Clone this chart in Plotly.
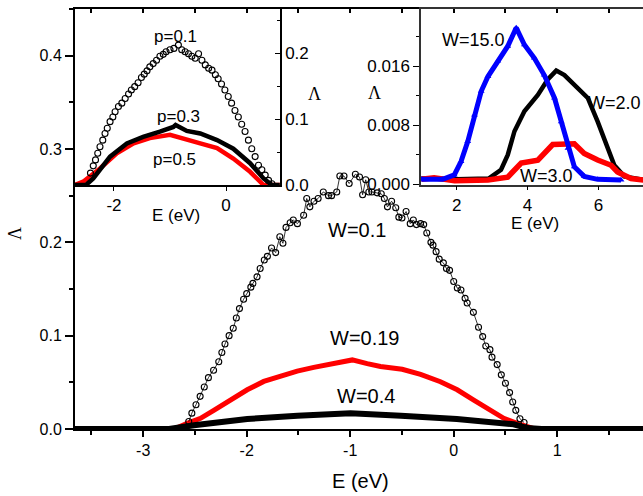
import plotly.graph_objects as go

# ---------------- data: main panel ----------------
w01_E = [-2.56, -2.53, -2.49, -2.45, -2.41, -2.37, -2.32, -2.27, -2.24, -2.21, -2.17, -2.13, -2.10, -2.07,
         -2.03, -2.00, -1.96, -1.94, -1.90, -1.87, -1.83, -1.80, -1.76, -1.72, -1.68, -1.65, -1.62, -1.58,
         -1.55, -1.51, -1.45, -1.42, -1.39, -1.35, -1.31, -1.26, -1.21, -1.18, -1.13, -1.10, -1.06, -1.01,
         -0.95, -0.91, -0.88, -0.85, -0.82, -0.79, -0.74, -0.70, -0.67, -0.64, -0.60, -0.56, -0.53, -0.50,
         -0.46, -0.42, -0.39, -0.36, -0.32, -0.29, -0.26, -0.22, -0.20, -0.17, -0.14, -0.10, -0.07, -0.04,
         0.00, 0.035, 0.07, 0.11, 0.13, 0.19, 0.24, 0.28, 0.31, 0.35, 0.37, 0.42, 0.46, 0.50, 0.54, 0.57,
         0.60, 0.64, 0.68]
w01_L = [0.008, 0.017, 0.026, 0.035, 0.045, 0.055, 0.063, 0.072, 0.082, 0.091, 0.100, 0.108, 0.119, 0.129,
         0.139, 0.145, 0.152, 0.156, 0.163, 0.172, 0.181, 0.185, 0.194, 0.189, 0.206, 0.199, 0.216, 0.221,
         0.224, 0.220, 0.229, 0.247, 0.238, 0.244, 0.247, 0.254, 0.250, 0.250, 0.254, 0.271, 0.271, 0.263,
         0.273, 0.270, 0.251, 0.267, 0.254, 0.254, 0.253, 0.252, 0.247, 0.238, 0.244, 0.237, 0.227, 0.226,
         0.233, 0.220, 0.224, 0.219, 0.220, 0.219, 0.210, 0.200, 0.197, 0.190, 0.182, 0.178, 0.172, 0.170,
         0.158, 0.151, 0.149, 0.140, 0.135, 0.125, 0.109, 0.099, 0.089, 0.085, 0.077, 0.069, 0.058, 0.049,
         0.039, 0.029, 0.020, 0.011, 0.007]

w019_E = [-3.66, -2.70, -2.575, -2.446, -2.318, -2.157, -1.995, -1.835, -1.673, -1.512, -1.352, -1.19,
          -0.98, -0.836, -0.707, -0.498, -0.32, -0.128, 0.034, 0.194, 0.356, 0.484, 0.613, 0.71, 0.78, 1.83]
w019_L = [0.0, 0.0, 0.006, 0.0114, 0.020, 0.031, 0.042, 0.051, 0.057, 0.062, 0.066, 0.069,
          0.074, 0.070, 0.067, 0.064, 0.0586, 0.0507, 0.042, 0.031, 0.020, 0.0114, 0.006, 0.003, 0.0, 0.0]

w04_E = [-3.66, -2.75, -2.51, -1.995, -1.51, -0.997, -0.51, 0.03, 0.58, 0.71, 0.85, 1.83]
w04_L = [0.0, 0.0, 0.004, 0.0107, 0.0143, 0.0168, 0.0143, 0.0107, 0.005, 0.001, 0.0, 0.0]

main_xticks = [-3, -2, -1, 0, 1]
main_xtext = ["-3", "-2", "-1", "0", "1"]
main_yticks = [0.0, 0.1, 0.2, 0.3, 0.4]
main_ytext = ["0.0", "0.1", "0.2", "0.3", "0.4"]

# ---------------- data: inset 1 (p) ----------------
p01_E = [-2.42, -2.37, -2.33, -2.29, -2.25, -2.20, -2.16, -2.12, -2.07, -2.02, -1.98, -1.92, -1.86, -1.80,
         -1.74, -1.69, -1.63, -1.57, -1.51, -1.46, -1.41, -1.36, -1.30, -1.24, -1.18, -1.12, -1.07, -1.00,
         -0.93, -0.85, -0.79, -0.73, -0.67, -0.61, -0.55, -0.49, -0.43, -0.37, -0.31, -0.25, -0.19, -0.14,
         -0.08, -0.02, 0.04, 0.10, 0.16, 0.22, 0.28, 0.34, 0.40, 0.46, 0.52, 0.58, 0.64, 0.70, 0.76, 0.82]
p01_L = [0.018, 0.029, 0.038, 0.048, 0.058, 0.068, 0.078, 0.086, 0.096, 0.103, 0.111, 0.119, 0.124, 0.131,
         0.138, 0.144, 0.149, 0.155, 0.163, 0.168, 0.173, 0.179, 0.184, 0.189, 0.195, 0.198, 0.202, 0.205,
         0.207, 0.212, 0.205, 0.202, 0.199, 0.195, 0.192, 0.199, 0.189, 0.182, 0.177, 0.174, 0.167, 0.161,
         0.153, 0.144, 0.134, 0.124, 0.113, 0.103, 0.092, 0.081, 0.068, 0.055, 0.043, 0.030, 0.023, 0.015,
         0.007, 0.002]

p03_E = [-2.70, -2.50, -2.37, -2.22, -2.07, -1.77, -1.48, -1.18, -0.94, -0.90, -0.70, -0.46, -0.16, 0.13,
         0.43, 0.67, 0.82, 0.96]
p03_L = [0.0, 0.0, 0.010, 0.027, 0.043, 0.063, 0.073, 0.081, 0.088, 0.091, 0.082, 0.078, 0.068, 0.055,
         0.033, 0.010, 0.0, 0.0]

p05_E = [-2.70, -2.55, -2.25, -1.95, -1.65, -1.36, -1.00, -0.76, -0.46, -0.16, 0.13, 0.43, 0.67, 0.96]
p05_L = [0.0, 0.005, 0.025, 0.048, 0.063, 0.071, 0.076, 0.071, 0.063, 0.056, 0.040, 0.020, 0.0, 0.0]

# ---------------- data: inset 2 (W large) ----------------
w15_E = [1.0, 1.6, 1.93, 2.12, 2.31, 2.50, 2.69, 2.88, 3.16, 3.44, 3.68, 3.91, 4.19, 4.47, 4.76, 4.95,
         5.14, 5.32, 5.60, 5.98, 6.64]
w15_L = [0.0007, 0.0007, 0.0013, 0.0031, 0.0058, 0.0094, 0.0126, 0.0146, 0.0167, 0.0187, 0.0212, 0.0189,
         0.0171, 0.0148, 0.0117, 0.0085, 0.0049, 0.0024, 0.0011, 0.0007, 0.0006]

w2_E = [1.0, 2.0, 2.9, 3.25, 3.44, 3.63, 3.91, 4.29, 4.57, 4.81, 5.04, 5.42, 5.70, 5.98, 6.27, 6.45,
        6.73, 7.30]
w2_L = [0.0008, 0.0007, 0.0008, 0.002, 0.004, 0.0072, 0.0099, 0.0121, 0.0142, 0.0154, 0.0148, 0.0130,
        0.0117, 0.0085, 0.0049, 0.0026, 0.0011, 0.0006]

w3_E = [1.0, 1.36, 1.94, 2.88, 3.44, 3.63, 3.82, 4.29, 4.52, 4.71, 5.32, 5.60, 5.98, 6.36, 6.54, 6.92,
        7.30]
w3_L = [0.0007, 0.0009, 0.0005, 0.0006, 0.001, 0.002, 0.0029, 0.0033, 0.0044, 0.0054, 0.0055, 0.0042,
        0.0033, 0.0026, 0.0017, 0.0008, 0.0006]

in2_yticks = [0.0, 0.008, 0.016]
in2_ytext = ["0.000", "0.008", "0.016"]

# ---------------- figure ----------------
W, H = 643, 496
FONT = "Arial, Liberation Sans, sans-serif"
SERIF = "Times New Roman, Liberation Serif, serif"


def px(x):
    return x / W


def py(y):
    return 1 - y / H


fig = go.Figure()

# main panel
fig.add_trace(go.Scatter(x=w019_E, y=w019_L, mode="lines", line=dict(color="#ff0000", width=5),
                         xaxis="x", yaxis="y", showlegend=False))
fig.add_trace(go.Scatter(x=w04_E, y=w04_L, mode="lines", line=dict(color="#000000", width=6),
                         xaxis="x", yaxis="y", showlegend=False))
fig.add_trace(go.Scatter(x=w01_E, y=w01_L, mode="lines+markers", line=dict(color="#000000", width=0.8),
                         marker=dict(symbol="circle-open", size=6, color="#000000", line=dict(width=1.1)),
                         xaxis="x", yaxis="y", showlegend=False))
# dummy trace for the top mirror axis of the main panel
fig.add_trace(go.Scatter(x=[-10], y=[-10], mode="markers", marker=dict(opacity=0),
                         xaxis="x4", yaxis="y", showlegend=False, hoverinfo="skip"))

# inset 1
fig.add_trace(go.Scatter(x=p05_E, y=p05_L, mode="lines", line=dict(color="#ff0000", width=4.5),
                         xaxis="x2", yaxis="y2", showlegend=False))
fig.add_trace(go.Scatter(x=p03_E, y=p03_L, mode="lines", line=dict(color="#000000", width=4.5),
                         xaxis="x2", yaxis="y2", showlegend=False))
fig.add_trace(go.Scatter(x=p01_E, y=p01_L, mode="markers",
                         marker=dict(symbol="circle-open", size=6, color="#000000", line=dict(width=1.1)),
                         xaxis="x2", yaxis="y2", showlegend=False))

# inset 2
fig.add_trace(go.Scatter(x=w2_E, y=w2_L, mode="lines", line=dict(color="#000000", width=4.5),
                         xaxis="x3", yaxis="y3", showlegend=False))
fig.add_trace(go.Scatter(x=w3_E, y=w3_L, mode="lines", line=dict(color="#ff0000", width=5.5),
                         xaxis="x3", yaxis="y3", showlegend=False))
fig.add_trace(go.Scatter(x=w15_E, y=w15_L, mode="lines+markers", line=dict(color="#0000ff", width=5),
                         marker=dict(symbol="triangle-up", size=6, color="#0000ff"),
                         xaxis="x3", yaxis="y3", showlegend=False))

tickfont_main = dict(family=FONT, size=16, color="black")
tickfont_in = dict(family=FONT, size=17, color="black")

fig.update_layout(
    template="none",
    width=W, height=H, autosize=False,
    margin=dict(l=0, r=0, t=0, b=0, pad=0),
    paper_bgcolor="white", plot_bgcolor="rgba(0,0,0,0)",
    xaxis=dict(domain=[px(75), 1.0], range=[-3.659, 1.829], anchor="y", automargin=False,
               showline=True, linecolor="black", linewidth=2, showgrid=False, zeroline=False,
               ticks="outside", ticklen=6, tickwidth=1.5, tickcolor="black",
               tickvals=main_xticks, ticktext=main_xtext, tickfont=tickfont_main,
               minor=dict(dtick=0.5, tick0=0, ticks="outside", ticklen=4, tickwidth=1.5, tickcolor="black",
                          showgrid=False)),
    xaxis4=dict(range=[-3.659, 1.829], overlaying="x", side="top", anchor="y", automargin=False,
                showline=True, linecolor="black", linewidth=2, showgrid=False, zeroline=False,
                ticks="inside", ticklen=4, tickwidth=1.5, tickcolor="black", dtick=0.5, tick0=0,
                showticklabels=False),
    yaxis=dict(domain=[py(429), py(9)], range=[0, 0.45], anchor="x", automargin=False,
               showline=True, linecolor="black", linewidth=2, showgrid=False, zeroline=False,
               ticks="outside", ticklen=8, tickwidth=1.5, tickcolor="black",
               tickvals=main_yticks, ticktext=main_ytext, tickfont=tickfont_main,
               minor=dict(dtick=0.05, tick0=0, ticks="outside", ticklen=4, tickwidth=1.5, tickcolor="black",
                          showgrid=False)),
    xaxis2=dict(domain=[px(75), px(280)], range=[-2.696, 0.964], anchor="y2", automargin=False,
                showline=True, mirror=True, linecolor="black", linewidth=1.5, showgrid=False, zeroline=False,
                ticks="outside", ticklen=4, tickwidth=1.2, tickcolor="black",
                tickvals=[-2, 0], ticktext=["-2", "0"], tickfont=tickfont_in),
    yaxis2=dict(domain=[py(185), py(9)], range=[0, 0.2667], anchor="x2", side="right", automargin=False,
                showline=True, mirror=True, linecolor="black", linewidth=1.5, showgrid=False, zeroline=False,
                ticks="inside", ticklen=5, tickwidth=1.2, tickcolor="black",
                tickvals=[0.0, 0.1, 0.2], ticktext=["0.0", "0.1", "0.2"], tickfont=tickfont_in,
                minor=dict(dtick=0.05, tick0=0, ticks="inside", ticklen=3, tickwidth=1.2, tickcolor="black",
                           showgrid=False)),
    xaxis3=dict(domain=[px(421), 1.0], range=[0.99, 7.26], anchor="y3", automargin=False,
                showline=True, mirror=True, linecolor="#333333", linewidth=1.5, showgrid=False, zeroline=False,
                ticks="outside", ticklen=4, tickwidth=1.2, tickcolor="black",
                tickvals=[2, 4, 6], ticktext=["2", "4", "6"], tickfont=tickfont_in),
    yaxis3=dict(domain=[py(184.5), py(9)], range=[0, 0.02373], anchor="x3", automargin=False,
                showline=True, linecolor="#333333", linewidth=1.5, showgrid=False, zeroline=False,
                ticks="outside", ticklen=6, tickwidth=1.2, tickcolor="black",
                tickvals=in2_yticks, ticktext=in2_ytext, tickfont=tickfont_in,
                minor=dict(dtick=0.004, tick0=0, ticks="outside", ticklen=3, tickwidth=1.2, tickcolor="black",
                           showgrid=False)),
)


def label(text, x, y, size, family=FONT, angle=0):
    fig.add_annotation(text=text, x=px(x), y=py(y), xref="paper", yref="paper",
                       xanchor="center", yanchor="middle", showarrow=False, textangle=angle,
                       font=dict(family=family, size=size, color="black"))


# axis titles
label("E (eV)", 360, 481, 20)
label("Λ", 15, 234, 18, SERIF, -90)
label("E (eV)", 176, 215, 17)
label("Λ", 314, 94, 18, SERIF)
label("E (eV)", 535, 223, 17)
label("Λ", 374, 93, 18, SERIF)

# curve labels
label("W=0.1", 357, 230, 20)
label("W=0.19", 364, 338, 20)
label("W=0.4", 366, 396, 20)
label("p=0.1", 175, 36, 17)
label("p=0.3", 178, 116, 17)
label("p=0.5", 174, 159, 17)
label("W=15.0", 473, 40, 18)
label("W=2.0", 614, 103, 18)
label("W=3.0", 546, 176, 18)

fig.write_html("out.html", config={"displayModeBar": False},
               post_script="document.body.style.margin='0';document.body.style.padding='0';"
                           "document.body.style.overflow='hidden';")
